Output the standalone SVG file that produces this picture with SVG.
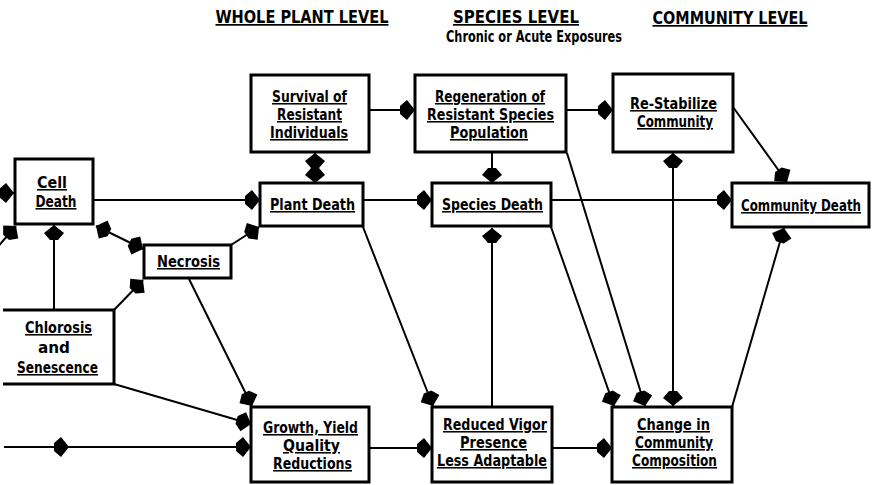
<svg xmlns="http://www.w3.org/2000/svg" width="873" height="485" viewBox="0 0 873 485">
<defs>
<marker id="ah" markerUnits="userSpaceOnUse" viewBox="-16 -11 17 22" refX="0" refY="0" markerWidth="17" markerHeight="22" orient="auto-start-reverse">
<path d="M0,0 L-8,-10 L-15,-4 L-15,4 L-8,10 Z" fill="#000"/>
</marker>
<style>
.box{fill:#fff;stroke:#000;stroke-width:3}
.c{fill:none;stroke:#000;stroke-width:2;marker-end:url(#ah)}
.d{fill:none;stroke:#000;stroke-width:2;marker-start:url(#ah);marker-end:url(#ah)}
text{font-family:"Liberation Sans Narrow","DejaVu Sans Condensed","Liberation Sans",Arial,sans-serif;font-weight:bold;font-size:15.5px;text-anchor:middle;fill:#000}
.h{font-size:17px}
.u{text-decoration:underline}
</style>
</defs>
<rect width="873" height="485" fill="#fff"/>

<g id="headers">
<text class="u h" x="302" y="23" textLength="173" lengthAdjust="spacingAndGlyphs">WHOLE PLANT LEVEL</text>
<text class="u h" x="516" y="23" textLength="126" lengthAdjust="spacingAndGlyphs">SPECIES LEVEL</text>
<text x="534" y="42" font-size="15" textLength="176" lengthAdjust="spacingAndGlyphs">Chronic or Acute Exposures</text>
<text class="u h" x="730" y="24" textLength="155" lengthAdjust="spacingAndGlyphs">COMMUNITY LEVEL</text>
</g>

<g id="connectors">
<line class="c" x1="0" y1="193" x2="14" y2="193"/>
<line class="c" x1="-5" y1="250" x2="16" y2="226"/>
<line class="c" x1="93" y1="200" x2="260" y2="200"/>
<line class="d" x1="96" y1="226" x2="143" y2="249"/>
<line class="c" x1="231" y1="245" x2="259" y2="227"/>
<line class="c" x1="54" y1="310" x2="54" y2="225"/>
<line class="c" x1="114" y1="310" x2="143" y2="280"/>
<line class="c" x1="114" y1="384" x2="251" y2="424"/>
<line class="c" x1="4" y1="447" x2="69" y2="447"/>
<line class="c" x1="69" y1="447" x2="251" y2="447"/>
<line class="c" x1="189" y1="279" x2="252" y2="406"/>
<line class="d" x1="315" y1="153" x2="315" y2="183"/>
<line class="c" x1="369" y1="110" x2="415" y2="110"/>
<line class="c" x1="566" y1="110" x2="613" y2="110"/>
<line class="c" x1="492" y1="152" x2="492" y2="183"/>
<line class="c" x1="363" y1="200" x2="432" y2="200"/>
<line class="c" x1="551" y1="200" x2="732" y2="200"/>
<line class="c" x1="733" y1="107" x2="787" y2="182"/>
<line class="d" x1="673" y1="153" x2="673" y2="406"/>
<line class="c" x1="363" y1="227" x2="433" y2="406"/>
<line class="c" x1="492" y1="407" x2="492" y2="228"/>
<line class="c" x1="551" y1="227" x2="614" y2="406"/>
<line class="c" x1="567" y1="153" x2="645" y2="406"/>
<line class="c" x1="369" y1="448" x2="432" y2="448"/>
<line class="c" x1="552" y1="448" x2="612" y2="448"/>
<line class="c" x1="732" y1="407" x2="784" y2="228"/>
</g>

<g id="cell-death">
<rect class="box" x="15" y="159" width="78" height="65"/>
<text class="u" x="52" y="188" textLength="30" lengthAdjust="spacingAndGlyphs">Cell</text>
<text class="u" x="56" y="207" textLength="41" lengthAdjust="spacingAndGlyphs">Death</text>
</g>

<g id="chlorosis">
<path d="M3,310 H114 V384 H3" fill="#fff" stroke="#000" stroke-width="3"/>
<text class="u" x="58.5" y="333" textLength="67" lengthAdjust="spacingAndGlyphs">Chlorosis</text>
<text x="54" y="353" textLength="32" lengthAdjust="spacingAndGlyphs">and</text>
<text class="u" x="57.5" y="373" textLength="81" lengthAdjust="spacingAndGlyphs">Senescence</text>
</g>

<g id="necrosis">
<rect class="box" x="144" y="245" width="87" height="33"/>
<text class="u" x="188.5" y="267" textLength="63" lengthAdjust="spacingAndGlyphs">Necrosis</text>
</g>

<g id="plant-death">
<rect class="box" x="260" y="183" width="103" height="43"/>
<text class="u" x="312.5" y="210" textLength="85" lengthAdjust="spacingAndGlyphs">Plant Death</text>
</g>

<g id="survival">
<rect class="box" x="251" y="75" width="118" height="77"/>
<text class="u" x="309.5" y="102" textLength="75" lengthAdjust="spacingAndGlyphs">Survival of</text>
<text class="u" x="309.5" y="120" textLength="65" lengthAdjust="spacingAndGlyphs">Resistant</text>
<text class="u" x="309" y="138" textLength="78" lengthAdjust="spacingAndGlyphs">Individuals</text>
</g>

<g id="regeneration">
<rect class="box" x="415" y="75" width="151" height="77"/>
<text class="u" x="490" y="102" textLength="110" lengthAdjust="spacingAndGlyphs">Regeneration of</text>
<text class="u" x="490.5" y="120" textLength="127" lengthAdjust="spacingAndGlyphs">Resistant Species</text>
<text class="u" x="489" y="138" textLength="78" lengthAdjust="spacingAndGlyphs">Population</text>
</g>

<g id="species-death">
<rect class="box" x="432" y="183" width="119" height="43"/>
<text class="u" x="492.5" y="210" textLength="101" lengthAdjust="spacingAndGlyphs">Species Death</text>
</g>

<g id="re-stabilize">
<rect class="box" x="613" y="74" width="120" height="78"/>
<text class="u" x="673.5" y="109" textLength="87" lengthAdjust="spacingAndGlyphs">Re-Stabilize</text>
<text class="u" x="675" y="127" textLength="76" lengthAdjust="spacingAndGlyphs">Community</text>
</g>

<g id="community-death">
<rect class="box" x="732" y="183" width="137" height="44"/>
<text class="u" x="801" y="211" font-size="12.5" textLength="120" lengthAdjust="spacingAndGlyphs">Community Death</text>
</g>

<g id="growth">
<rect class="box" x="251" y="407" width="118" height="75"/>
<text class="u" x="310.5" y="433" textLength="95" lengthAdjust="spacingAndGlyphs">Growth, Yield</text>
<text class="u" x="311.5" y="451" textLength="57" lengthAdjust="spacingAndGlyphs">Quality</text>
<text class="u" x="312.5" y="469" textLength="79" lengthAdjust="spacingAndGlyphs">Reductions</text>
</g>

<g id="reduced-vigor">
<rect class="box" x="432" y="407" width="120" height="75"/>
<text class="u" x="495" y="430" textLength="104" lengthAdjust="spacingAndGlyphs">Reduced Vigor</text>
<text class="u" x="493.5" y="448" textLength="67" lengthAdjust="spacingAndGlyphs">Presence</text>
<text class="u" x="492" y="466" textLength="110" lengthAdjust="spacingAndGlyphs">Less Adaptable</text>
</g>

<g id="change">
<rect class="box" x="612" y="407" width="120" height="75"/>
<text class="u" x="673.5" y="430" textLength="73" lengthAdjust="spacingAndGlyphs">Change in</text>
<text class="u" x="674" y="448" textLength="78" lengthAdjust="spacingAndGlyphs">Community</text>
<text class="u" x="674.5" y="466" textLength="85" lengthAdjust="spacingAndGlyphs">Composition</text>
</g>
</svg>
